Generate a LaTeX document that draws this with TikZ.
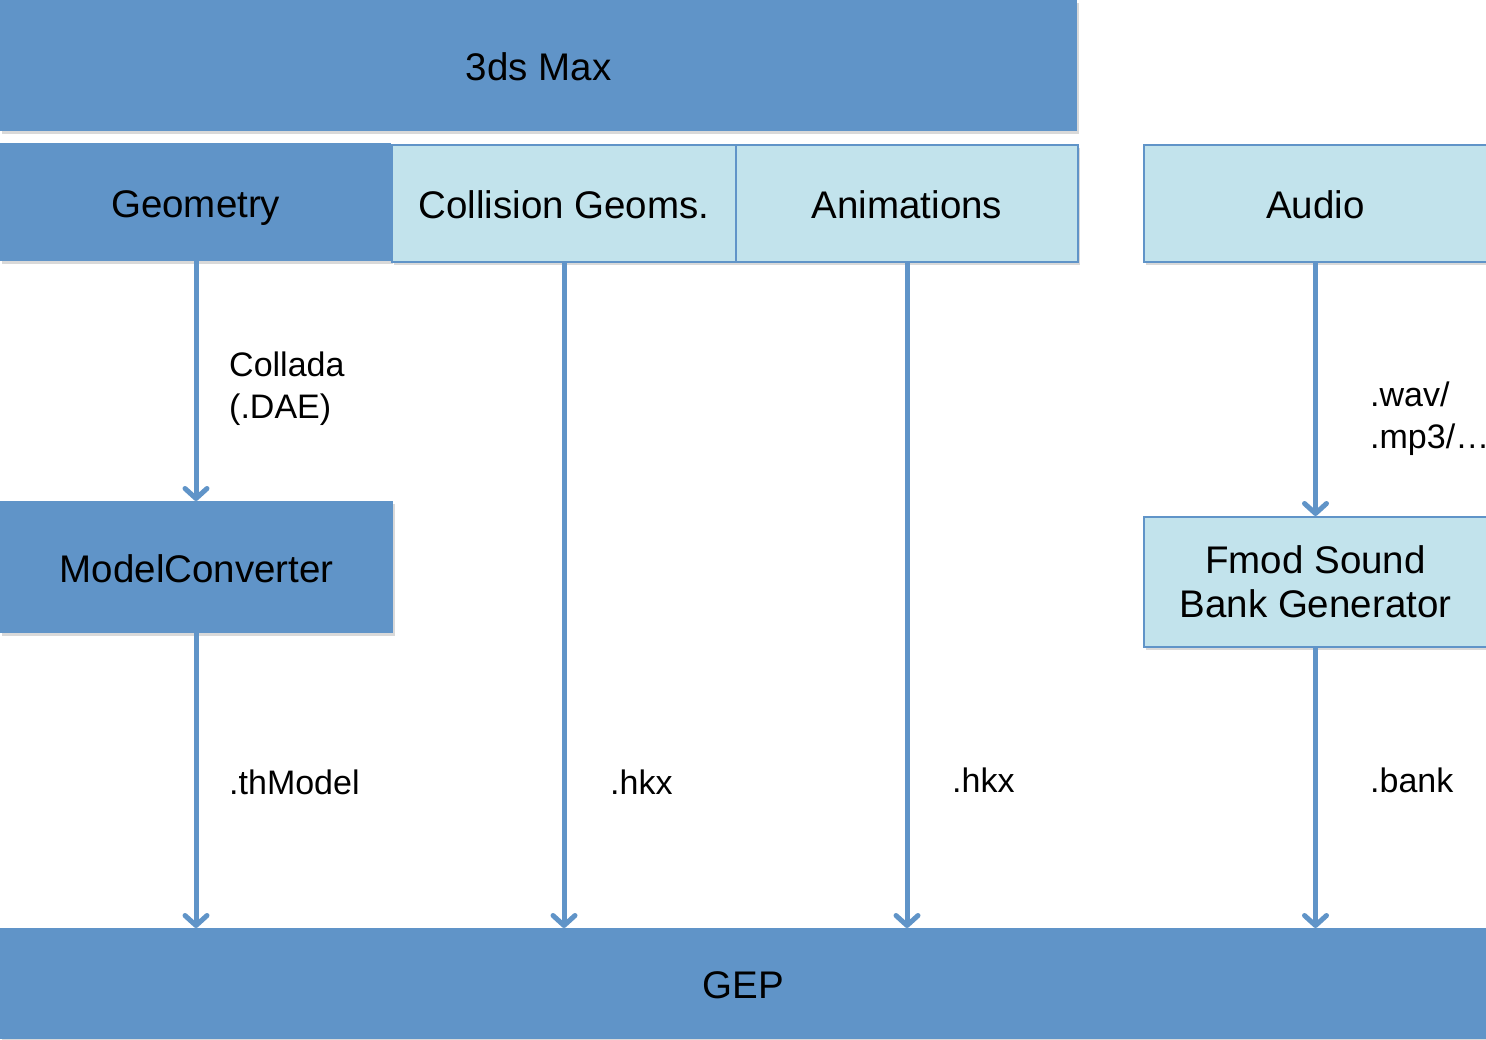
\documentclass[tikz,border=0pt]{standalone}
\usepackage{fontspec}
\setmainfont{Liberation Sans}
\usetikzlibrary{arrows.meta,shadows}
\definecolor{darkbox}{RGB}{96,148,200}
\definecolor{lightbox}{RGB}{194,227,236}
\tikzset{
  boxshadow/.style={drop shadow={shadow xshift=2pt,shadow yshift=-3pt,opacity=0.25,fill=black!60}},
  boxfont/.style={font=\fontsize{38.5}{44}\selectfont},
  capcenter/.style={text height=30pt,text depth=0pt},
  darkstyle/.style={rectangle,fill=darkbox,draw=none,inner sep=0pt,anchor=north west,
    boxfont,align=center,boxshadow},
  lightstyle/.style={rectangle,fill=lightbox,draw=darkbox,line width=2pt,inner sep=0pt,anchor=north west,
    boxfont,align=center,boxshadow},
  flow/.style={draw=darkbox,line width=5pt,-{Straight Barb[length=10pt,width=22pt,line cap=round,line join=round]}},
  lbl/.style={anchor=west,inner sep=0pt,align=left,font=\fontsize{34}{42}\selectfont}
}
\begin{document}
\begin{tikzpicture}[x=1pt,y=-1pt]
\useasboundingbox (0,0) rectangle (1486,1039);
% boxes
\node[darkstyle,capcenter,minimum width=1077pt,minimum height=131pt] (max) at (0,0) {3ds Max};
\node[darkstyle,capcenter,minimum width=391pt,minimum height=118pt] (geo) at (0,143) {Geometry};
\node[lightstyle,capcenter,minimum width=344pt,minimum height=117pt] (coll) at (391,144) {Collision Geoms.};
\node[lightstyle,capcenter,minimum width=342pt,minimum height=117pt] (anim) at (735,144) {Animations};
\node[lightstyle,capcenter,minimum width=343pt,minimum height=117pt] (audio) at (1143,144) {Audio};
\node[darkstyle,capcenter,minimum width=393pt,minimum height=132pt] (mc) at (0,501) {ModelConverter};
\node[lightstyle,minimum width=343pt,minimum height=130pt] (fmod) at (1143,516) {Fmod Sound\\Bank Generator};
\node[darkstyle,capcenter,minimum width=1486pt,minimum height=111pt] (gep) at (0,928) {GEP};
% connectors
\draw[flow] (geo.south -| 196,0) -- (mc.north -| 196,0);
\draw[flow] (mc.south -| 196,0) -- (gep.north -| 196,0);
\draw[flow] (coll.south) -- (coll.south |- gep.north);
\draw[flow] (anim.south) -- (anim.south |- gep.north);
\draw[flow] (audio.south) -- (fmod.north);
\draw[flow] (fmod.south) -- (fmod.south |- gep.north);
% labels
\node[lbl] (l1) at (229,389) {Collada\\(.DAE)};
\node[lbl] (l2) at (229,782) {.thModel};
\node[lbl] (l3) at (610,782) {.hkx};
\node[lbl] (l4) at (952,780) {.hkx};
\node[lbl] (l5) at (1370,419) {.wav/\\.mp3/…};
\node[lbl] (l6) at (1370,780) {.bank};
\end{tikzpicture}
\end{document}
